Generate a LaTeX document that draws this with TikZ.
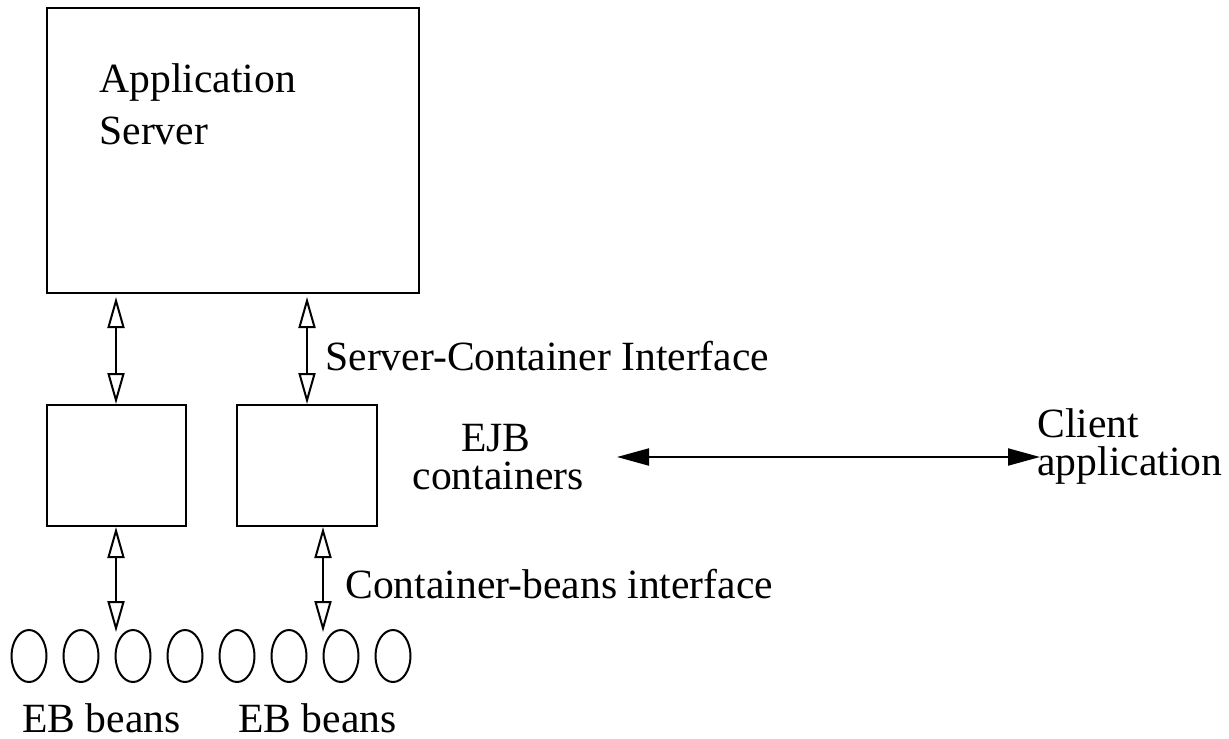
\documentclass[tikz,border=0pt]{standalone}
\usepackage{fontspec}
\setmainfont{Liberation Serif}
\usetikzlibrary{arrows.meta,shapes.geometric}
\tikzset{
  box/.style={draw, line width=1pt, rectangle, inner sep=0pt},
  bean/.style={draw, line width=1pt, ellipse, minimum width=17.5pt, minimum height=26pt, inner sep=0pt},
  lbl/.style={inner sep=0pt, font=\fontsize{20.8}{24}\selectfont},
  oarrow/.style={line width=1pt, {Triangle[open, length=15.5pt, width=8.5pt]}-{Triangle[open, length=15.5pt, width=8.5pt]}},
  farrow/.style={line width=1pt, {Triangle[length=16pt, width=8.5pt]}-{Triangle[length=16pt, width=8.5pt]}}
}
\begin{document}
\begin{tikzpicture}[x=0.5pt,y=-0.5pt]
\useasboundingbox (0,0) rectangle (1229,738);
% boxes
\node[box, minimum width=186pt, minimum height=142.5pt] (app) at (233,150.5) {};
\node[box, minimum width=69.5pt, minimum height=60.5pt] (cont1) at (116.5,465.5) {};
\node[box, minimum width=70pt, minimum height=60.5pt] (cont2) at (307,465.5) {};
% beans
\foreach \i/\x in {1/29,2/81,3/133,4/185,5/237,6/289,7/341,8/393}
  \node[bean] (b\i) at (\x,656) {};
% texts
\node[lbl, anchor=base west] (t1) at (99,92) {Application};
\node[lbl, anchor=base west] (t2) at (99,144) {Server};
\node[lbl, anchor=base west] (sci) at (325,370) {Server-Container Interface};
\node[lbl, anchor=base, text depth=0pt] (ejb) at (496,451) {EJB};
\node[lbl, anchor=base, text height=12pt] (ejb2) at (498,489) {containers};
\node[lbl, anchor=base west] (cl1) at (1037,437) {Client};
\node[lbl, anchor=base west] (cl2) at (1037,475) {application};
\node[lbl, anchor=base west] (cbi) at (345,598) {Container-beans interface};
\node[lbl, anchor=base west] (eb1) at (22,732) {EB beans};
\node[lbl, anchor=base west] (eb2) at (238,732) {EB beans};
% coordinates
\coordinate (u1t) at (116,297);
\coordinate (u1b) at (116,404);
\coordinate (u2t) at (307,297);
\coordinate (u2b) at (307,404);
\coordinate (l1t) at (116,527);
\coordinate (l1b) at (116,632);
\coordinate (l2t) at (323,527);
\coordinate (l2b) at (323,632);
\coordinate (hl) at (617,457);
\coordinate (hr) at (1040,457);
% connectors
\draw[oarrow] (u1t) -- (u1b);
\draw[oarrow] (u2t) -- (u2b);
\draw[oarrow] (l1t) -- (l1b);
\draw[oarrow] (l2t) -- (l2b);
\draw[farrow] (hl) -- (hr);
\end{tikzpicture}
\end{document}
